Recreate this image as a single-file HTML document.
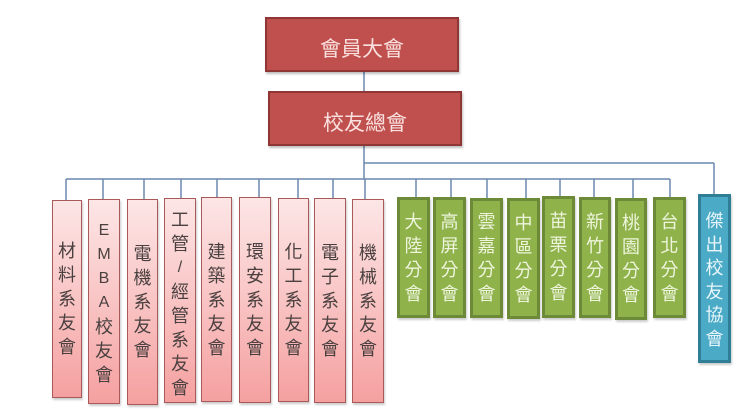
<!DOCTYPE html>
<html><head><meta charset="utf-8">
<style>
html,body{margin:0;padding:0;background:#fff;}
body{width:750px;height:417px;position:relative;overflow:hidden;font-family:"Liberation Sans","Noto Sans CJK TC",sans-serif;}
.b{position:absolute;box-sizing:border-box;display:flex;flex-direction:column;align-items:center;justify-content:center;}
.top{background:#c0504d;border:2px solid #8f3734;color:#f9e0df;font-size:21px;letter-spacing:0px;box-shadow:1px 2px 2px rgba(0,0,0,0.25);}
.pk{background:linear-gradient(to bottom,#fde6e6 0%,#f9c4c4 50%,#f5a0a0 100%);border:1.5px solid #a85a5a;color:#4a4040;font-size:18px;line-height:24px;box-shadow:1px 2px 2px rgba(0,0,0,0.2);}
.gr{background:#8fb24b;border:3px solid #6c8a37;color:#eef5dc;font-size:18px;line-height:24px;box-shadow:1px 2px 2px rgba(0,0,0,0.2);}
.bl{background:#4baac6;border:3px solid #2f7e95;color:#e8f6fb;font-size:18px;line-height:23.5px;box-shadow:1px 2px 2px rgba(0,0,0,0.2);}
.b span{display:block;text-align:center;}
.lat{font-family:"Liberation Sans",sans-serif;font-size:16px;}
svg{position:absolute;left:0;top:0;}
</style></head><body>
<svg width="750" height="417">
<g stroke="#6a88ae" stroke-width="1.5" fill="none">
<line x1="364" y1="72" x2="364" y2="91"/>
<line x1="364" y1="146" x2="364" y2="179"/>
<line x1="364" y1="163" x2="714" y2="163"/>
<line x1="714" y1="163" x2="714" y2="194"/>
<line x1="66" y1="179" x2="670" y2="179"/>
<line x1="66" y1="179" x2="66" y2="200"/>
<line x1="103" y1="179" x2="103" y2="199"/>
<line x1="144" y1="179" x2="144" y2="199"/>
<line x1="181" y1="179" x2="181" y2="198"/>
<line x1="217" y1="179" x2="217" y2="197"/>
<line x1="259" y1="179" x2="259" y2="197"/>
<line x1="298" y1="179" x2="298" y2="198"/>
<line x1="333" y1="179" x2="333" y2="198"/>
<line x1="365" y1="179" x2="365" y2="199"/>
<line x1="416" y1="179" x2="416" y2="197"/>
<line x1="451" y1="179" x2="451" y2="197"/>
<line x1="487" y1="179" x2="487" y2="198"/>
<line x1="526" y1="179" x2="526" y2="198"/>
<line x1="560" y1="179" x2="560" y2="196"/>
<line x1="594" y1="179" x2="594" y2="197"/>
<line x1="633" y1="179" x2="633" y2="198"/>
<line x1="670" y1="179" x2="670" y2="197"/>
</g>
</svg>

<div class="b top" style="left:265px;top:17px;width:194px;height:55px;padding-top:6px;">會員大會</div>
<div class="b top" style="left:268px;top:91px;width:194px;height:55px;padding-top:6px;">校友總會</div>

<div class="b pk" style="left:52px;top:200px;width:30px;height:198px;"><span>材</span><span>料</span><span>系</span><span>友</span><span>會</span></div>
<div class="b pk" style="left:88px;top:199px;width:32px;height:205px;padding-top:2px;"><span class="lat">E</span><span class="lat">M</span><span class="lat">B</span><span class="lat">A</span><span>校</span><span>友</span><span>會</span></div>
<div class="b pk" style="left:127px;top:199px;width:31px;height:206px;"><span>電</span><span>機</span><span>系</span><span>友</span><span>會</span></div>
<div class="b pk" style="left:164px;top:198px;width:32px;height:205px;padding-top:6px;"><span>工</span><span>管</span><span class="lat">/</span><span>經</span><span>管</span><span>系</span><span>友</span><span>會</span></div>
<div class="b pk" style="left:201px;top:197px;width:31px;height:205px;"><span>建</span><span>築</span><span>系</span><span>友</span><span>會</span></div>
<div class="b pk" style="left:239px;top:197px;width:32px;height:206px;"><span>環</span><span>安</span><span>系</span><span>友</span><span>會</span></div>
<div class="b pk" style="left:278px;top:198px;width:31px;height:204px;"><span>化</span><span>工</span><span>系</span><span>友</span><span>會</span></div>
<div class="b pk" style="left:314px;top:198px;width:32px;height:205px;"><span>電</span><span>子</span><span>系</span><span>友</span><span>會</span></div>
<div class="b pk" style="left:352px;top:199px;width:32px;height:204px;"><span>機</span><span>械</span><span>系</span><span>友</span><span>會</span></div>

<div class="b gr" style="left:397px;top:197px;width:33px;height:121px;"><span>大</span><span>陸</span><span>分</span><span>會</span></div>
<div class="b gr" style="left:433px;top:197px;width:33px;height:121px;"><span>高</span><span>屏</span><span>分</span><span>會</span></div>
<div class="b gr" style="left:470px;top:198px;width:33px;height:120px;"><span>雲</span><span>嘉</span><span>分</span><span>會</span></div>
<div class="b gr" style="left:507px;top:198px;width:33px;height:121px;"><span>中</span><span>區</span><span>分</span><span>會</span></div>
<div class="b gr" style="left:542px;top:196px;width:33px;height:122px;"><span>苗</span><span>栗</span><span>分</span><span>會</span></div>
<div class="b gr" style="left:579px;top:197px;width:32px;height:121px;"><span>新</span><span>竹</span><span>分</span><span>會</span></div>
<div class="b gr" style="left:615px;top:198px;width:32px;height:122px;"><span>桃</span><span>園</span><span>分</span><span>會</span></div>
<div class="b gr" style="left:653px;top:197px;width:33px;height:121px;"><span>台</span><span>北</span><span>分</span><span>會</span></div>

<div class="b bl" style="left:698px;top:194px;width:33px;height:169px;padding-top:4px;"><span>傑</span><span>出</span><span>校</span><span>友</span><span>協</span><span>會</span></div>
</body></html>
